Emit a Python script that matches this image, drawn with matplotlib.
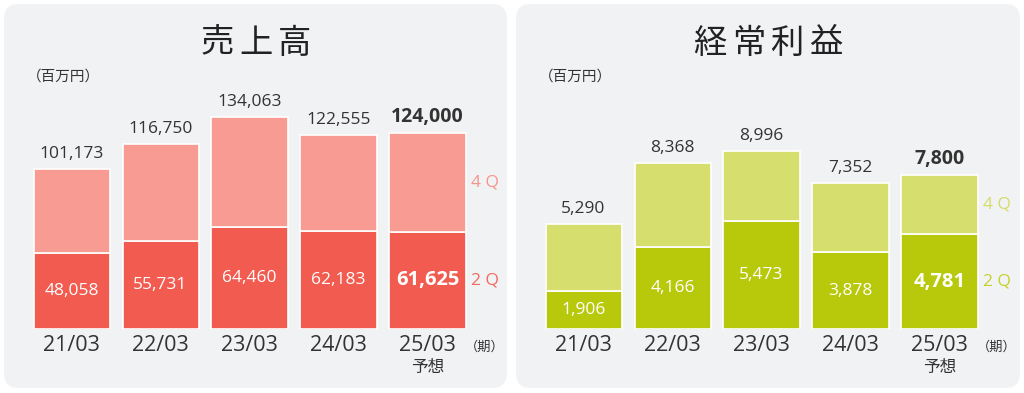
import matplotlib
matplotlib.use("Agg")
import matplotlib.pyplot as plt
from matplotlib.patches import FancyBboxPatch
import numpy as np

plt.rcParams["font.family"] = ["Open Sans", "Noto Sans CJK JP", "DejaVu Sans"]

CATS = ["21/03", "22/03", "23/03", "24/03", "25/03"]
SALES_TOTAL = [101173, 116750, 134063, 122555, 124000]
SALES_2Q = [48058, 55731, 64460, 62183, 61625]
PROFIT_TOTAL = [5290, 8368, 8996, 7352, 7800]
PROFIT_2Q = [1906, 4166, 5473, 3878, 4781]

W, H = 1024, 393
DARK = "#333333"
PANEL = "#F1F2F4"
JP = ["Noto Sans CJK JP", "DejaVu Sans"]


def fx(px):
    return px / W


def fy(py):
    return 1 - py / H


def draw_panel(fig, x0, x1, title, title_cx, totals, q2, ymax,
               c_light, c_dark, c_4q, c_2q):
    fig.patches.append(FancyBboxPatch(
        (fx(x0), fy(388)), fx(x1) - fx(x0), fy(4) - fy(388),
        boxstyle="round,pad=0,rounding_size=0.0146", transform=fig.transFigure,
        facecolor=PANEL, edgecolor="none", zorder=-5, mutation_aspect=W / H))

    # title, letter spaced
    for i, ch in enumerate(title):
        cx = title_cx + (i - (len(title) - 1) / 2) * 38.5
        fig.text(fx(cx), fy(43), ch, ha="center", va="center",
                 fontsize=24, color="#222222", family=JP)
    fig.text(fx(x0 + 23), fy(77), "（百万円）", ha="left", va="center",
             fontsize=10.5, color=DARK, family=JP)

    ax = fig.add_axes([fx(x0 + 16), fy(329), fx(480), fy(60) - fy(329)])
    ax.set_facecolor("none")
    x = np.arange(len(CATS))
    totals = np.array(totals)
    q2 = np.array(q2)
    ax.bar(x, q2, width=0.854, color=c_dark, edgecolor="white", linewidth=1.2)
    ax.bar(x, totals - q2, bottom=q2, width=0.854, color=c_light,
           edgecolor="white", linewidth=1.2)
    ax.set_xlim(-0.5787, 4.8146)
    ax.set_ylim(0, ymax)

    for i in x:
        last = i == len(x) - 1
        ax.annotate(f"{totals[i]:,}", (i, totals[i]), xytext=(0, 11.5 if last else 10.8),
                    textcoords="offset points", ha="center", va="center",
                    fontsize=14 if last else 12.5,
                    fontweight="bold" if last else "normal", color=DARK)
        ax.text(i, q2[i] / 2, f"{q2[i]:,}", ha="center", va="center",
                fontsize=14.5 if last else 12.5,
                fontweight="bold" if last else "normal", color="white")

    n = len(x) - 1
    ax.annotate("4 Q", (n, (totals[n] + q2[n]) / 2), xytext=(41.5, 0),
                textcoords="offset points", ha="center", va="center",
                fontsize=12.5, color=c_4q)
    ax.annotate("2 Q", (n, q2[n] / 2), xytext=(41.5, 0),
                textcoords="offset points", ha="center", va="center",
                fontsize=12.5, color=c_2q)
    ax.annotate("予想", (n, 0), xytext=(0, -27.5), textcoords="offset points",
                ha="center", va="center", fontsize=12, color=DARK, family=JP)
    ax.annotate("（期）", (n, 0), xytext=(41.5, -13), textcoords="offset points",
                ha="center", va="center", fontsize=9.5, color=DARK, family=JP)

    ax.set_xticks(x, labels=CATS)
    ax.tick_params(axis="x", length=0, pad=4, labelsize=15.5, labelcolor=DARK)
    ax.set_yticks([])
    for s in ax.spines.values():
        s.set_visible(False)
    return ax


fig = plt.figure(figsize=(W / 100, H / 100), dpi=100)
draw_panel(fig, 4, 507, "売上高", 256, SALES_TOTAL, SALES_2Q, 269 / 0.001581,
           "#F89B93", "#F25B50", "#F5958C", "#F26B5E")
draw_panel(fig, 516, 1020, "経常利益", 768, PROFIT_TOTAL, PROFIT_2Q, 269 / 0.0198,
           "#D6DF6E", "#B8C90C", "#D4DC6A", "#C5D12A")
fig.savefig("out.png", dpi=100)
